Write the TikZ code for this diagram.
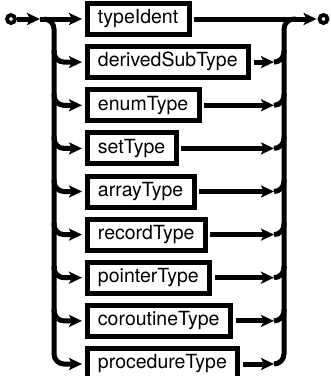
\documentclass[tikz,border=0pt]{standalone}
\usepackage{fontspec}
\setmainfont{TeX Gyre Heros}
\usetikzlibrary{arrows.meta}
\begin{document}
\begin{tikzpicture}[x=1pt,y=-1pt,
  rulebox/.style={draw, line width=5pt, rectangle, minimum height=31pt,
    inner xsep=11pt, inner ysep=0pt, anchor=west,
    font=\fontsize{19.5}{21}\selectfont, text height=14pt, text depth=4.5pt},
  wire/.style={line width=5pt},
  arr/.style={wire, -{Stealth[length=13pt,width=12pt,inset=3pt]}},
  railbend/.style={wire, rounded corners=10pt},
  term/.style={circle, draw, line width=3.8pt, minimum size=8pt, inner sep=0pt}]
\useasboundingbox (0,0) rectangle (331,376);
\clip (0,0) rectangle (331,376);

% terminals
\node[term] (start) at (11,19) {};
\node[term] (stop) at (323.5,19) {};

% rail end points
\coordinate (in) at (40,19);
\coordinate (lsplit) at (44,19);
\coordinate (lbottom) at (54,352);
\coordinate (rbottom) at (284,352);
\coordinate (rtop) at (296,19);

% alternatives
\foreach \nm/\yy [count=\i] in {typeIdent/19, derivedSubType/62.1,
    enumType/105.3, setType/148.4, arrayType/191.5, recordType/234.6,
    pointerType/277.7, coroutineType/320.9, procedureType/364} {
  \node[rulebox] (\nm) at (84.5,\yy) {\nm};
  \ifnum\i>1
    \coordinate (L\i) at (54,\yy-12);
    \coordinate (R\i) at (274,\yy);
    \coordinate (U\i) at (284,\yy-12);
    \draw[arr, rounded corners=10pt] (L\i) |- ([xshift=-2.5pt]\nm.west);
    \draw[arr] ([xshift=2.5pt]\nm.east) -- (R\i);
    \draw[railbend] (R\i) -| (U\i);
  \fi
}

% entry, rails and exit
\draw[arr] (start) -- (in);
\draw[arr] (in) -- ([xshift=-2.5pt]typeIdent.west);
\draw[railbend] (lsplit) -| (lbottom);
\draw[railbend] (rbottom) |- (rtop);
\draw[arr] ([xshift=2.5pt]typeIdent.east) -- ([xshift=-1pt]stop.west);
\end{tikzpicture}
\end{document}
